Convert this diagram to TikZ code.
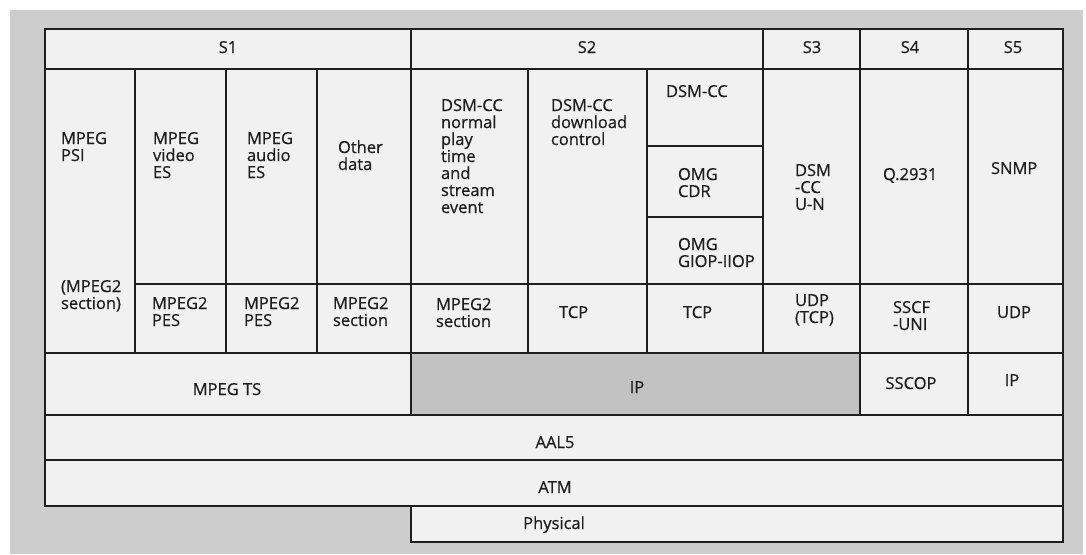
\documentclass[tikz,border=0pt]{standalone}
\usepackage{fontspec}
\setmainfont{Open Sans}[FakeBold=0.6]
\definecolor{bggray}{HTML}{CDCDCD}
\definecolor{cellfill}{HTML}{F1F1F1}
\definecolor{darkcell}{HTML}{C2C2C2}
\definecolor{ink}{HTML}{1E1E1E}
\tikzset{
  cell/.style={draw=ink, line width=1.2pt, fill=cellfill},
  darkbox/.style={draw=ink, line width=1.2pt, fill=darkcell},
  lbl/.style={inner sep=0pt, outer sep=0pt, text=ink, align=left, anchor=base west,
    font=\fontsize{16.5}{17}\selectfont},
  clbl/.style={inner sep=0pt, outer sep=0pt, text=ink, anchor=base,
    font=\fontsize{16.5}{17}\selectfont}
}
\begin{document}
\begin{tikzpicture}[x=1pt,y=-1pt]
\useasboundingbox (0,0) rectangle (1086,554);
\fill[white] (0,0) rectangle (1086,554);
\fill[bggray] (10,10) rectangle (1083,554);
% header row
\draw[cell] (45,29) rectangle (411,69);
\draw[cell] (411,29) rectangle (763,69);
\draw[cell] (763,29) rectangle (860,69);
\draw[cell] (860,29) rectangle (968,69);
\draw[cell] (968,29) rectangle (1063,69);
% upper cells
\draw[cell] (45,69) rectangle (135,353);
\draw[cell] (135,69) rectangle (226,284);
\draw[cell] (226,69) rectangle (317,284);
\draw[cell] (317,69) rectangle (411,284);
\draw[cell] (411,69) rectangle (528,284);
\draw[cell] (528,69) rectangle (647,284);
\draw[cell] (647,69) rectangle (763,146);
\draw[cell] (647,146) rectangle (763,217);
\draw[cell] (647,217) rectangle (763,284);
\draw[cell] (763,69) rectangle (860,284);
\draw[cell] (860,69) rectangle (968,284);
\draw[cell] (968,69) rectangle (1063,284);
% lower cells
\draw[cell] (135,284) rectangle (226,353);
\draw[cell] (226,284) rectangle (317,353);
\draw[cell] (317,284) rectangle (411,353);
\draw[cell] (411,284) rectangle (528,353);
\draw[cell] (528,284) rectangle (647,353);
\draw[cell] (647,284) rectangle (763,353);
\draw[cell] (763,284) rectangle (860,353);
\draw[cell] (860,284) rectangle (968,353);
\draw[cell] (968,284) rectangle (1063,353);
% transport row
\draw[cell] (45,353) rectangle (411,415);
\draw[darkbox] (411,353) rectangle (860,415);
\draw[cell] (860,353) rectangle (968,415);
\draw[cell] (968,353) rectangle (1063,415);
% bottom layers
\draw[cell] (45,415) rectangle (1063,460);
\draw[cell] (45,460) rectangle (1063,506);
\draw[cell] (411,506) rectangle (1063,542);
% header labels
\node[clbl] (s1) at (228,53) {S1};
\node[clbl] (s2) at (587,53) {S2};
\node[clbl] (s3) at (812,53) {S3};
\node[clbl] (s4) at (910,53) {S4};
\node[clbl] (s5) at (1013,53) {S5};
% S1 labels (anchor = baseline of last line)
\node[lbl] (psi) at (61,161) {MPEG\\PSI};
\node[lbl] (psisec) at (61,309) {(MPEG2\\section)};
\node[lbl] (vid) at (153,178) {MPEG\\video\\ES};
\node[lbl] (aud) at (247,178) {MPEG\\audio\\ES};
\node[lbl] (oth) at (338,170) {Other\\data};
\node[lbl] (pes1) at (152,326) {MPEG2\\PES};
\node[lbl] (pes2) at (244,326) {MPEG2\\PES};
\node[lbl] (sec1) at (333,326) {MPEG2\\section};
% S2 labels
\node[lbl] (npt) at (441,213) {DSM-CC\\normal\\play\\time\\and\\stream\\event};
\node[lbl] (dl) at (551,145) {DSM-CC\\download\\control};
\node[lbl] (dsmcc) at (666,97) {DSM-CC};
\node[lbl] (cdr) at (678,197) {OMG\\CDR};
\node[lbl] (giop) at (678,267) {OMG\\GIOP-IIOP};
\node[lbl] (sec2) at (436,327) {MPEG2\\section};
\node[lbl] (tcp1) at (559,318) {TCP};
\node[lbl] (tcp2) at (683,318) {TCP};
% S3-S5 labels
\node[lbl] (un) at (795,210) {DSM\\-CC\\U-N};
\node[lbl] (q) at (883,180) {Q.2931};
\node[lbl] (snmp) at (991,174) {SNMP};
\node[lbl] (udp1) at (795,323) {UDP\\(TCP)};
\node[lbl] (sscf) at (893,330) {SSCF\\-UNI};
\node[lbl] (udp2) at (997,318) {UDP};
% transport and lower
\node[clbl] (ts) at (227,395) {MPEG TS};
\node[clbl] (ip1) at (637,393) {IP};
\node[clbl] (sscop) at (911,389) {SSCOP};
\node[clbl] (ip2) at (1012,386) {IP};
\node[clbl] (aal) at (555,448) {AAL5};
\node[clbl] (atm) at (555,493) {ATM};
\node[clbl] (phy) at (554,529) {Physical};
\end{tikzpicture}
\end{document}
